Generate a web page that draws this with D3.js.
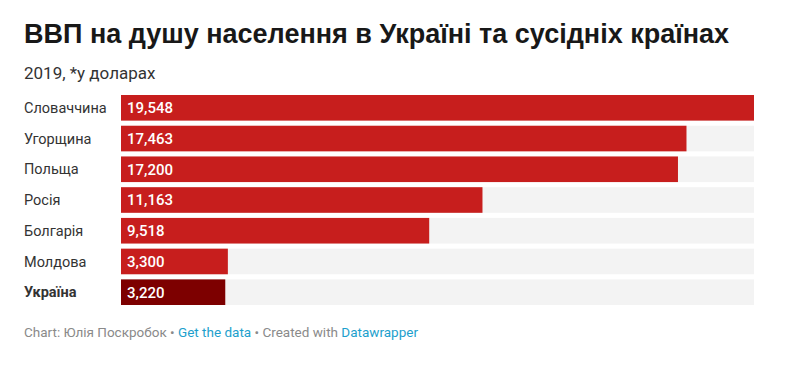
<!DOCTYPE html>
<html>
<head>
<meta charset="utf-8">
<script src="https://cdn.jsdelivr.net/npm/d3@7"></script>
<style>
  body { margin: 0; background: #fff; font-family: Roboto, "Noto Sans", sans-serif; }
</style>
</head>
<body>
<div id="chart-area"></div>
<script>
// data
var countries = ["Словаччина", "Угорщина", "Польща", "Росія", "Болгарія", "Молдова", "Україна"]
var gdp = [19548, 17463, 17200, 11163, 9518, 3300, 3220]
var highlight = "Україна"

var svgWidth = 810, svgHeight = 371

var svg = d3.select("#chart-area")
    .append("svg")
    .attr("width", svgWidth)
    .attr("height", svgHeight)

// title + subtitle
svg.append("text")
    .attr("x", 24).attr("y", 43)
    .attr("font-family", "'Liberation Sans', Arial, sans-serif")
    .attr("font-size", "27px")
    .attr("font-weight", "bold")
    .attr("fill", "#181818")
    .text("ВВП на душу населення в Україні та сусідніх країнах")

svg.append("text")
    .attr("x", 24).attr("y", 79)
    .attr("font-size", "17px")
    .attr("fill", "#333")
    .text("2019, *у доларах")

// scales
var xScale = d3.scaleLinear()
    .domain([0, d3.max(gdp)])
    .range([121, 754])

var yScale = d3.scaleBand()
    .domain(countries)
    .range([95, 305])
    .paddingInner(5 / 30)
    .paddingOuter(0)
    .align(0)

var rows = svg.append("g")
    .selectAll("g")
    .data(countries.map((c, i) => ({ country: c, value: gdp[i] })))
    .enter().append("g")
    .attr("transform", d => "translate(0," + yScale(d.country) + ")")

// background bars
rows.append("rect")
    .attr("x", xScale(0))
    .attr("width", xScale.range()[1] - xScale(0))
    .attr("height", yScale.bandwidth())
    .attr("fill", "#f3f3f3")

rows.append("rect")
    .attr("x", xScale(0))
    .attr("width", d => xScale(d.value) - xScale(0))
    .attr("height", yScale.bandwidth())
    .attr("fill", d => d.country == highlight ? "#7d0000" : "#c71e1d")

rows.append("text")
    .attr("x", 24)
    .attr("y", yScale.bandwidth() / 2)
    .attr("dy", "0.36em")
    .attr("font-size", "14.5px")
    .attr("font-weight", d => d.country == highlight ? "bold" : "normal")
    .attr("fill", "#333")
    .text(d => d.country)

rows.append("text")
    .attr("x", xScale(0) + 6)
    .attr("y", yScale.bandwidth() / 2)
    .attr("dy", "0.36em")
    .attr("font-size", "15px")
    .attr("font-weight", 500)
    .attr("fill", "#fff")
    .text(d => d3.format(",")(d.value))

// footer
var foot = svg.append("text")
    .attr("x", 24).attr("y", 337)
    .attr("font-size", "13.5px")
    .attr("fill", "#8a8a8a")
foot.append("tspan").text("Chart: Юлія Поскробок • ")
foot.append("tspan").attr("fill", "#1d9fcd").text("Get the data")
foot.append("tspan").text(" • Created with ")
foot.append("tspan").attr("fill", "#1d9fcd").text("Datawrapper")
</script>
</body>
</html>
